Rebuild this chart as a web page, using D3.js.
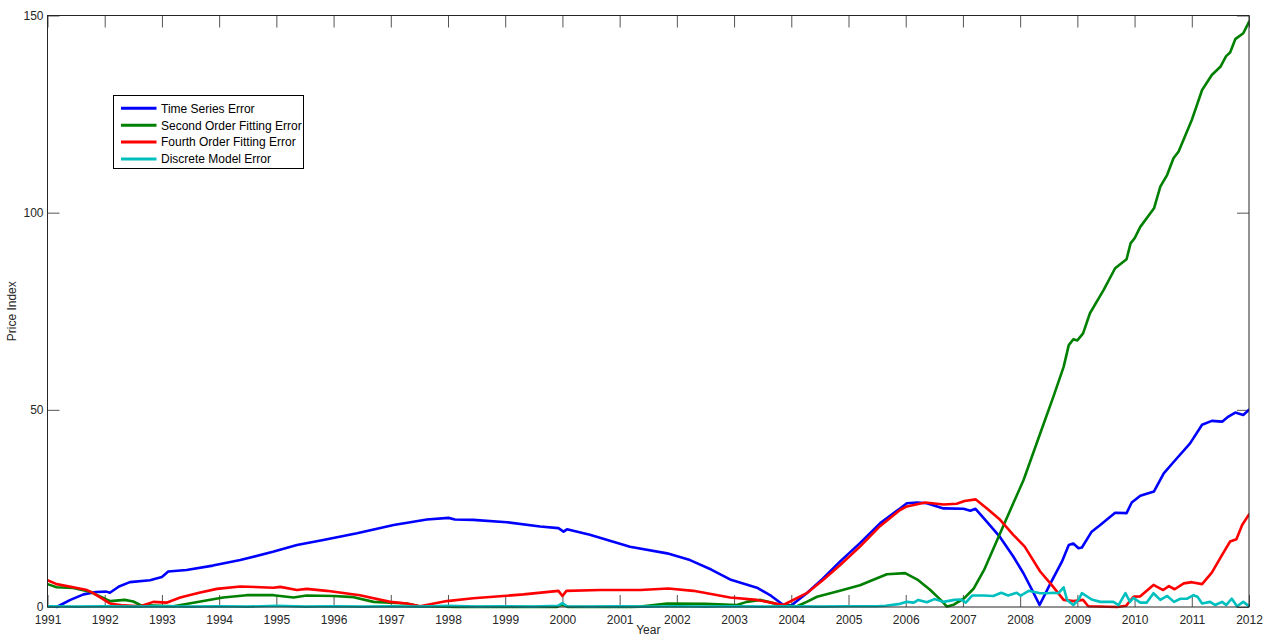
<!DOCTYPE html>
<html>
<head>
<meta charset="utf-8">
<script src="https://cdn.jsdelivr.net/npm/d3@7"></script>
<style>
  html, body { margin: 0; padding: 0; background: #fff; }
  svg { display: block; font-family: "Liberation Sans", Arial, Helvetica, sans-serif; }
</style>
</head>
<body>
<svg id="chart" width="1268" height="636"></svg>
<script>
// ---- Data ----
const seriesNames = ["Time Series Error", "Second Order Fitting Error", "Fourth Order Fitting Error", "Discrete Model Error"];
const seriesColors = ["#0000ff", "#008000", "#ff0000", "#00bfbf"];
const xTickYears = d3.range(1991, 2013);
const yTickValues = [0, 50, 100, 150];

const timeSeriesError = [[1991.16,0],[1991.4,1.8],[1991.63,3.2],[1991.85,3.8],[1992.03,3.9],[1992.09,3.6],[1992.25,5.2],[1992.44,6.3],[1992.79,6.8],[1993.0,7.6],[1993.11,9.0],[1993.43,9.4],[1993.89,10.5],[1994.37,11.9],[1994.94,14.0],[1995.36,15.7],[1995.82,17.0],[1996.41,18.7],[1997.05,20.8],[1997.63,22.2],[1998.01,22.6],[1998.12,22.2],[1998.44,22.1],[1999.03,21.5],[1999.61,20.4],[1999.93,20.0],[2000.02,19.1],[2000.08,19.7],[2000.48,18.3],[2001.18,15.3],[2001.83,13.6],[2002.23,11.9],[2002.6,9.5],[2002.93,7.0],[2003.4,4.9],[2003.65,2.8],[2003.88,0.3],[2004.01,0.5],[2004.27,3.5],[2004.55,7.2],[2004.85,11.5],[2005.2,16.2],[2005.55,21.2],[2005.9,25.0],[2006.02,26.3],[2006.2,26.5],[2006.37,26.3],[2006.66,25.0],[2007.01,24.9],[2007.13,24.4],[2007.22,24.9],[2007.42,21.6],[2007.65,17.7],[2007.88,12.8],[2008.06,8.5],[2008.21,4.3],[2008.34,0.5],[2008.53,6.0],[2008.73,11.5],[2008.85,15.7],[2008.93,16.1],[2009.02,14.9],[2009.08,15.1],[2009.25,19.1],[2009.40,20.8],[2009.66,23.9],[2009.86,23.8],[2009.95,26.5],[2010.1,28.2],[2010.34,29.3],[2010.51,33.9],[2010.69,36.9],[2010.97,41.5],[2011.18,46.2],[2011.35,47.2],[2011.53,47.0],[2011.64,48.3],[2011.76,49.3],[2011.9,48.7],[2012,50.0]];

const secondOrderError = [[1991,5.8],[1991.16,5.0],[1991.45,4.8],[1991.74,3.9],[1992.03,1.9],[1992.1,1.5],[1992.35,1.8],[1992.5,1.4],[1992.62,0.5],[1993.2,0.2],[1993.55,1.1],[1994.07,2.4],[1994.48,3.0],[1994.95,3.0],[1995.3,2.4],[1995.53,2.9],[1996.0,2.8],[1996.35,2.5],[1996.7,1.3],[1997.28,0.9],[1997.5,0.2],[1998.15,0],[1999.9,0],[2000.0,0.7],[2000.1,0],[2001.2,0],[2001.36,0.1],[2001.83,0.9],[2002.5,0.8],[2003.05,0.5],[2003.22,1.3],[2003.46,1.8],[2003.6,1.3],[2003.8,0.5],[2004.1,0.2],[2004.27,1.3],[2004.45,2.6],[2004.85,4.1],[2005.2,5.5],[2005.67,8.3],[2005.99,8.6],[2006.22,6.8],[2006.43,4.3],[2006.61,1.8],[2006.72,0.1],[2006.84,0.6],[2007.02,2.2],[2007.19,4.7],[2007.37,9.4],[2007.65,18.7],[2007.88,26.3],[2008.06,32.2],[2008.35,44.0],[2008.58,53.3],[2008.76,60.9],[2008.85,66.4],[2008.93,67.9],[2009.0,67.6],[2009.1,69.4],[2009.22,74.5],[2009.46,80.4],[2009.66,85.9],[2009.86,88.2],[2009.93,92.2],[2010.0,93.5],[2010.1,96.4],[2010.34,101.1],[2010.45,106.6],[2010.57,109.6],[2010.68,113.8],[2010.77,115.5],[2011.0,123.5],[2011.18,131.1],[2011.35,134.9],[2011.5,137.0],[2011.6,139.7],[2011.67,140.6],[2011.76,144.0],[2011.9,145.5],[2012,148.4]];

const fourthOrderError = [[1991,6.8],[1991.16,5.8],[1991.45,5.0],[1991.69,4.3],[1991.8,3.5],[1992.09,0.9],[1992.33,0.4],[1992.62,0.2],[1992.85,1.3],[1993.08,1.1],[1993.32,2.4],[1993.65,3.6],[1993.96,4.6],[1994.37,5.2],[1994.95,4.9],[1995.07,5.1],[1995.36,4.3],[1995.53,4.6],[1995.88,4.1],[1996.46,3.0],[1996.99,1.3],[1997.28,0.9],[1997.51,0.2],[1997.98,1.5],[1998.44,2.2],[1999.32,3.2],[1999.93,4.1],[2000.0,2.8],[2000.07,4.1],[2000.66,4.3],[2001.36,4.3],[2001.85,4.7],[2002.29,4.1],[2002.93,2.4],[2003.4,1.8],[2003.86,0.5],[2004.27,3.5],[2004.55,6.8],[2004.85,10.6],[2005.2,15.3],[2005.55,20.5],[2005.9,24.6],[2006.02,25.5],[2006.34,26.5],[2006.66,26.0],[2006.89,26.2],[2007.03,26.9],[2007.22,27.3],[2007.42,25.0],[2007.65,22.1],[2007.88,18.3],[2008.08,15.3],[2008.35,9.0],[2008.55,5.6],[2008.76,1.8],[2008.93,1.5],[2009.1,1.8],[2009.19,0.2],[2009.7,0],[2009.85,0.3],[2009.98,2.6],[2010.1,2.7],[2010.33,5.6],[2010.5,4.3],[2010.6,5.3],[2010.7,4.5],[2010.86,6.0],[2011.0,6.3],[2011.18,5.8],[2011.35,8.7],[2011.53,13.2],[2011.67,16.6],[2011.78,17.2],[2011.88,20.8],[2012,23.5]];

const discreteModelError = [[1991,0.2],[1991.5,0.1],[1992,0.2],[1992.5,0.1],[1993,0.2],[1993.5,0.1],[1994,0.2],[1994.5,0.1],[1995,0.3],[1995.5,0.1],[1996,0.2],[1996.5,0.1],[1997,0.2],[1997.5,0.1],[1998,0.3],[1998.5,0.1],[1999,0.2],[1999.5,0.1],[1999.92,0.3],[2000.0,1.0],[2000.08,0.2],[2000.5,0.1],[2001,0.2],[2001.5,0.1],[2002,0.2],[2002.5,0.1],[2003,0.2],[2003.5,0.1],[2004,0.2],[2004.5,0.1],[2005,0.2],[2005.5,0.2],[2005.65,0.3],[2005.9,0.8],[2006.02,1.3],[2006.14,1.1],[2006.22,1.8],[2006.37,1.2],[2006.5,2.0],[2006.66,1.3],[2006.85,1.8],[2006.97,1.9],[2007.05,1.1],[2007.16,2.9],[2007.36,2.9],[2007.53,2.8],[2007.67,3.6],[2007.79,2.9],[2007.94,3.6],[2008.01,2.9],[2008.15,4.1],[2008.35,3.5],[2008.47,3.5],[2008.58,3.6],[2008.67,3.5],[2008.76,5.0],[2008.82,1.8],[2008.93,0.5],[2009.02,1.8],[2009.08,3.5],[2009.25,1.9],[2009.4,1.3],[2009.63,1.3],[2009.72,0.5],[2009.84,3.5],[2009.92,1.3],[2009.98,2.3],[2010.1,1.1],[2010.21,1.1],[2010.33,3.5],[2010.45,1.8],[2010.57,2.8],[2010.69,1.3],[2010.8,2.1],[2010.92,2.1],[2011.03,3.0],[2011.1,2.6],[2011.18,0.9],[2011.32,1.3],[2011.41,0.5],[2011.53,1.3],[2011.6,0.5],[2011.7,2.1],[2011.79,0.2],[2011.9,1.3],[2012,0.2]];

const allSeries = [timeSeriesError, secondOrderError, fourthOrderError, discreteModelError];

// ---- Layout ----
const svg = d3.select("#chart");
const L = 47.5, R = 1249, T = 15.5, B = 607;
const x = d3.scaleLinear().domain([1991, 2012]).range([L, R]);
const y = d3.scaleLinear().domain([0, 150]).range([B, T]);
const axisColor = "#262626";
const tickLen = 12;

svg.append("defs").append("clipPath").attr("id", "plotclip")
  .append("rect").attr("x", L).attr("y", T - 2).attr("width", R - L).attr("height", B - T + 4);

function styleAxis(g) {
  g.select(".domain").remove();
  g.selectAll(".tick line").attr("stroke", "#555").attr("stroke-width", 1);
  g.selectAll(".tick text").attr("fill", axisColor).style("font-size", "12px")
    .style("font-family", "'Liberation Sans', Arial, sans-serif");
}
svg.append("g").attr("transform", `translate(0,${B})`)
  .call(d3.axisBottom(x).tickValues(xTickYears).tickFormat(d3.format("d")).tickSizeInner(-tickLen).tickSizeOuter(0).tickPadding(8))
  .call(styleAxis);
svg.append("g").attr("transform", `translate(0,${T})`)
  .call(d3.axisTop(x).tickValues(xTickYears).tickFormat("").tickSizeInner(-tickLen).tickSizeOuter(0))
  .call(styleAxis);
svg.append("g").attr("transform", `translate(${L},0)`)
  .call(d3.axisLeft(y).tickValues(yTickValues).tickSizeInner(-tickLen).tickSizeOuter(0).tickPadding(4))
  .call(styleAxis);
svg.append("g").attr("transform", `translate(${R},0)`)
  .call(d3.axisRight(y).tickValues(yTickValues).tickFormat("").tickSizeInner(-tickLen).tickSizeOuter(0))
  .call(styleAxis);

// lines
const line = d3.line().x(d => x(d[0])).y(d => y(d[1]));
const plot = svg.append("g").attr("clip-path", "url(#plotclip)");
allSeries.forEach((s, i) => {
  plot.append("path").datum(s)
    .attr("d", line)
    .attr("fill", "none")
    .attr("stroke", seriesColors[i])
    .attr("stroke-width", 2.6)
    .attr("stroke-linejoin", "round")
    .attr("stroke-linecap", "round");
});

// frame
svg.append("rect").attr("x", L).attr("y", T).attr("width", R - L).attr("height", B - T)
  .attr("fill", "none").attr("stroke", axisColor).attr("stroke-width", 1);

// axis titles
svg.append("text").attr("x", (L + R) / 2).attr("y", 634).attr("text-anchor", "middle")
  .attr("fill", axisColor).style("font-size", "12px").text("Year");
svg.append("text").attr("transform", `translate(16,${(T + B) / 2}) rotate(-90)`)
  .attr("text-anchor", "middle").attr("fill", axisColor).style("font-size", "12px").text("Price Index");

// legend
const lg = svg.append("g");
lg.append("rect").attr("x", 113.5).attr("y", 95.5).attr("width", 190).attr("height", 73)
  .attr("fill", "#fff").attr("stroke", "#000").attr("stroke-width", 1);
seriesNames.forEach((name, i) => {
  const yy = 108.3 + i * 16.9;
  lg.append("line").attr("x1", 121).attr("x2", 156.5).attr("y1", yy).attr("y2", yy)
    .attr("stroke", seriesColors[i]).attr("stroke-width", 3);
  lg.append("text").attr("x", 161).attr("y", yy + 4.3).attr("fill", "#000")
    .style("font-size", "12px").text(name);
});
</script>
</body>
</html>
